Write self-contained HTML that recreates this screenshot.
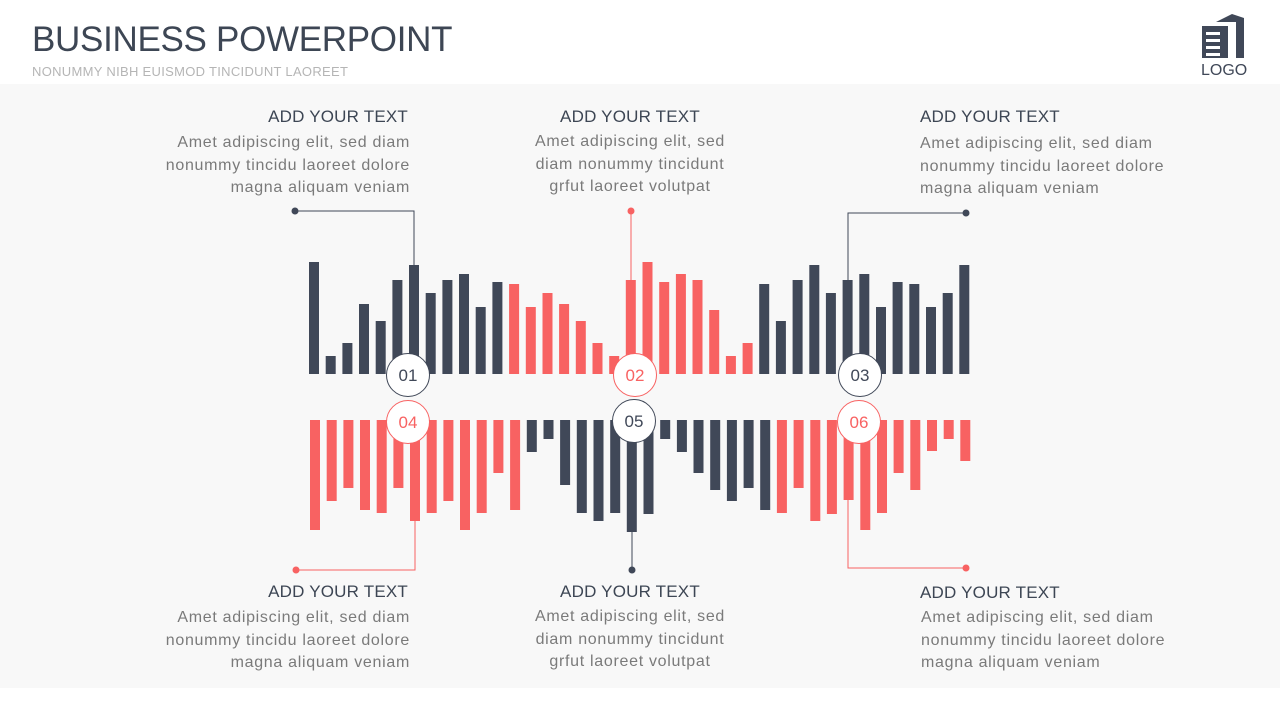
<!DOCTYPE html>
<html><head><meta charset="utf-8"><style>
body{margin:0;width:1280px;height:720px;overflow:hidden;background:#fff;font-family:"Liberation Sans",sans-serif;position:relative}
.panel{position:absolute;left:0;top:84px;width:1280px;height:604px;background:#f8f8f8}
.t{position:absolute;font-size:17px;color:#3d4654;letter-spacing:0.2px}
.b{position:absolute;font-size:16px;color:#7a7a7a;line-height:22.5px;letter-spacing:0.7px;white-space:nowrap}
</style></head><body>
<div class="panel"></div>
<div style="position:absolute;left:32px;top:20px;font-size:35px;color:#3d4654;letter-spacing:-0.3px">BUSINESS POWERPOINT</div>
<div style="position:absolute;left:32px;top:64px;font-size:13px;color:#b5b5b5;letter-spacing:0.3px">NONUMMY NIBH EUISMOD TINCIDUNT LAOREET</div>
<svg style="position:absolute;left:1200px;top:10px" width="46" height="50" viewBox="0 0 46 50">
<path d="M16 12 L32 4 L44 8 L44 48 L36 48 L36 12 L24 12 Z" fill="#404858"/>
<rect x="2" y="16" width="26" height="32" fill="#404858"/>
<rect x="6" y="22" width="14" height="3" fill="#fff"/><rect x="6" y="29" width="14" height="3" fill="#fff"/><rect x="6" y="36" width="14" height="3" fill="#fff"/><rect x="6" y="43" width="14" height="3" fill="#fff"/>
</svg>
<div style="position:absolute;left:1201px;top:62px;font-size:16px;color:#404858">LOGO</div>

<div class="t" style="right:872px;top:107px">ADD YOUR TEXT</div>
<div class="b" style="right:870px;top:132px;text-align:right">Amet adipiscing elit, sed diam<br>nonummy tincidu laoreet dolore<br>magna aliquam veniam</div>
<div class="t" style="left:530px;width:200px;text-align:center;top:107px">ADD YOUR TEXT</div>
<div class="b" style="left:480px;width:300px;text-align:center;top:131px">Amet adipiscing elit, sed<br>diam nonummy tincidunt<br>grfut laoreet volutpat</div>
<div class="t" style="left:920px;top:107px">ADD YOUR TEXT</div>
<div class="b" style="left:920px;top:133px">Amet adipiscing elit, sed diam<br>nonummy tincidu laoreet dolore<br>magna aliquam veniam</div>

<div class="t" style="right:872px;top:582px">ADD YOUR TEXT</div>
<div class="b" style="right:870px;top:607px;text-align:right">Amet adipiscing elit, sed diam<br>nonummy tincidu laoreet dolore<br>magna aliquam veniam</div>
<div class="t" style="left:530px;width:200px;text-align:center;top:582px">ADD YOUR TEXT</div>
<div class="b" style="left:480px;width:300px;text-align:center;top:606px">Amet adipiscing elit, sed<br>diam nonummy tincidunt<br>grfut laoreet volutpat</div>
<div class="t" style="left:920px;top:583px">ADD YOUR TEXT</div>
<div class="b" style="left:921px;top:607px">Amet adipiscing elit, sed diam<br>nonummy tincidu laoreet dolore<br>magna aliquam veniam</div>

<svg style="position:absolute;left:0;top:0" width="1280" height="720">
<g fill="#404858">
<rect x="309" y="262" width="10" height="112"/><rect x="325.7" y="356" width="10" height="18"/><rect x="342.4" y="343" width="10" height="31"/><rect x="359" y="304" width="10" height="70"/><rect x="375.7" y="321" width="10" height="53"/><rect x="392.4" y="280" width="10" height="94"/><rect x="409" y="265" width="10" height="109"/><rect x="425.7" y="293" width="10" height="81"/><rect x="442.4" y="280" width="10" height="94"/><rect x="459" y="274" width="10" height="100"/><rect x="475.7" y="307" width="10" height="67"/><rect x="492.4" y="282" width="10" height="92"/>
<rect x="759.2" y="284" width="10" height="90"/><rect x="775.9" y="321" width="10" height="53"/><rect x="792.6" y="280" width="10" height="94"/><rect x="809.3" y="265" width="10" height="109"/><rect x="825.9" y="293" width="10" height="81"/><rect x="842.6" y="280" width="10" height="94"/><rect x="859.3" y="274" width="10" height="100"/><rect x="876" y="307" width="10" height="67"/><rect x="892.6" y="282" width="10" height="92"/><rect x="909.3" y="284" width="10" height="90"/><rect x="926" y="307" width="10" height="67"/><rect x="942.7" y="293" width="10" height="81"/><rect x="959.3" y="265" width="10" height="109"/>
<rect x="526.8" y="420" width="10" height="32"/><rect x="543.5" y="420" width="10" height="19"/><rect x="560.1" y="420" width="10" height="65"/><rect x="576.8" y="420" width="10" height="93"/><rect x="593.5" y="420" width="10" height="101"/><rect x="610.2" y="420" width="10" height="93"/><rect x="626.8" y="420" width="10" height="112"/><rect x="643.5" y="420" width="10" height="94"/><rect x="660.2" y="420" width="10" height="19"/><rect x="676.9" y="420" width="10" height="32"/><rect x="693.5" y="420" width="10" height="53"/><rect x="710.2" y="420" width="10" height="70"/><rect x="726.9" y="420" width="10" height="81"/><rect x="743.6" y="420" width="10" height="68"/><rect x="760.2" y="420" width="10" height="90"/>
</g>
<g fill="#f86262">
<rect x="509.1" y="284" width="10" height="90"/><rect x="525.8" y="307" width="10" height="67"/><rect x="542.5" y="293" width="10" height="81"/><rect x="559.1" y="304" width="10" height="70"/><rect x="575.8" y="321" width="10" height="53"/><rect x="592.5" y="343" width="10" height="31"/><rect x="609.2" y="356" width="10" height="18"/><rect x="625.8" y="280" width="10" height="94"/><rect x="642.5" y="262" width="10" height="112"/><rect x="659.2" y="282" width="10" height="92"/><rect x="675.9" y="274" width="10" height="100"/><rect x="692.5" y="280" width="10" height="94"/><rect x="709.2" y="310" width="10" height="64"/><rect x="725.9" y="356" width="10" height="18"/><rect x="742.6" y="343" width="10" height="31"/>
<rect x="310" y="420" width="10" height="110"/><rect x="326.7" y="420" width="10" height="81"/><rect x="343.4" y="420" width="10" height="68"/><rect x="360" y="420" width="10" height="90"/><rect x="376.7" y="420" width="10" height="93"/><rect x="393.4" y="420" width="10" height="68"/><rect x="410" y="420" width="10" height="101"/><rect x="426.7" y="420" width="10" height="93"/><rect x="443.4" y="420" width="10" height="81"/><rect x="460" y="420" width="10" height="110"/><rect x="476.7" y="420" width="10" height="93"/><rect x="493.4" y="420" width="10" height="53"/><rect x="510.1" y="420" width="10" height="90"/>
<rect x="776.9" y="420" width="10" height="93"/><rect x="793.6" y="420" width="10" height="68"/><rect x="810.3" y="420" width="10" height="101"/><rect x="826.9" y="420" width="10" height="94"/><rect x="843.6" y="420" width="10" height="80"/><rect x="860.3" y="420" width="10" height="110"/><rect x="877" y="420" width="10" height="93"/><rect x="893.6" y="420" width="10" height="53"/><rect x="910.3" y="420" width="10" height="70"/><rect x="927" y="420" width="10" height="31"/><rect x="943.7" y="420" width="10" height="19"/><rect x="960.3" y="420" width="10" height="41"/>
</g>
<g fill="none" stroke-width="1">
<polyline points="295,211 414,211 414,266" stroke="#404858"/>
<line x1="631" y1="211" x2="631" y2="281" stroke="#f86262"/>
<polyline points="966,213 848,213 848,281" stroke="#404858"/>
<polyline points="296,570 415,570 415,520" stroke="#f86262"/>
<line x1="632" y1="570" x2="632" y2="531" stroke="#404858"/>
<polyline points="966,568 848,568 848,499" stroke="#f86262"/>
</g>
<circle cx="295" cy="211" r="3.5" fill="#404858"/><circle cx="631" cy="211" r="3.5" fill="#f86262"/><circle cx="966" cy="213" r="3.5" fill="#404858"/>
<circle cx="296" cy="570" r="3.5" fill="#f86262"/><circle cx="632" cy="570" r="3.5" fill="#404858"/><circle cx="966" cy="568" r="3.5" fill="#f86262"/>
<g font-family="Liberation Sans, sans-serif" font-size="17" text-anchor="middle">
<circle cx="408" cy="375" r="21.5" fill="#fff" stroke="#404858"/><text x="408" y="381" fill="#404858">01</text>
<circle cx="635" cy="375" r="21.5" fill="#fff" stroke="#f86262"/><text x="635" y="381" fill="#f86262">02</text>
<circle cx="860" cy="375" r="21.5" fill="#fff" stroke="#404858"/><text x="860" y="381" fill="#404858">03</text>
<circle cx="408" cy="422" r="21.5" fill="#fff" stroke="#f86262"/><text x="408" y="428" fill="#f86262">04</text>
<circle cx="634" cy="421" r="21.5" fill="#fff" stroke="#404858"/><text x="634" y="427" fill="#404858">05</text>
<circle cx="859" cy="422" r="21.5" fill="#fff" stroke="#f86262"/><text x="859" y="428" fill="#f86262">06</text>
</g>
</svg>
</body></html>
